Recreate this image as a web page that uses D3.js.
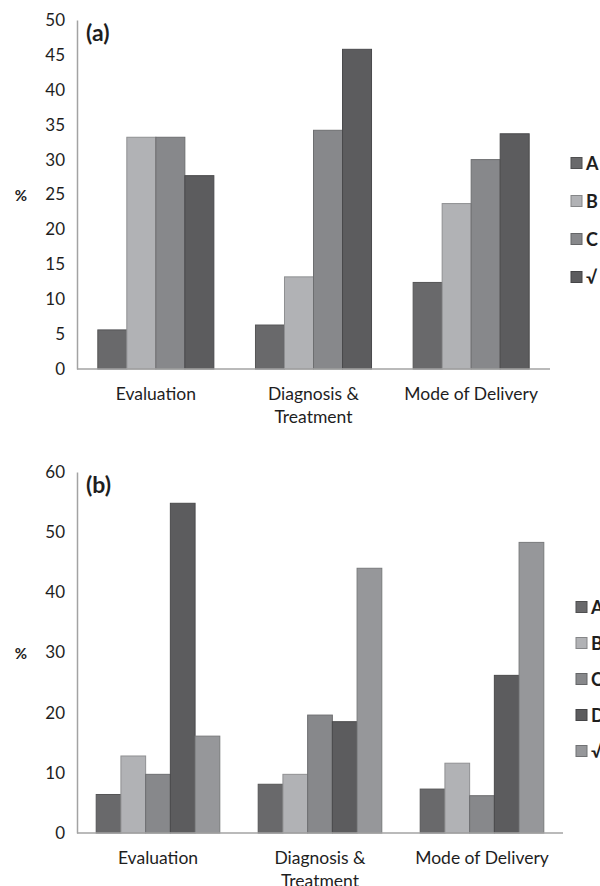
<!DOCTYPE html>
<html>
<head>
<meta charset="utf-8">
<script src="https://cdn.jsdelivr.net/npm/d3@7"></script>
<style>
  body { margin: 0; background: #fff; }
  svg { display: block; font-family: Lato, "Open Sans", sans-serif; }
</style>
</head>
<body>
<div id="chart"></div>
<script>
// categories shared by both panels
const categories = ["Evaluation", "Diagnosis & Treatment", "Mode of Delivery"];

// panel (a)
const seriesA = ["A", "B", "C", "√"];
const valuesA = {
    "A": [5.6, 6.3, 12.4],
    "B": [33.2, 13.2, 23.7],
    "C": [33.2, 34.2, 30.0],
    "√": [27.7, 45.8, 33.7]
};
const ticksA = [0, 5, 10, 15, 20, 25, 30, 35, 40, 45, 50];

// panel (b)
const seriesB = ["A", "B", "C", "D", "√"];
const valuesB = {
    "A": [6.4, 8.1, 7.3],
    "B": [12.8, 9.75, 11.6],
    "C": [9.75, 19.6, 6.2],
    "D": [54.8, 18.5, 26.2],
    "√": [16.1, 44.0, 48.3]
};
const ticksB = [0, 10, 20, 30, 40, 50, 60];

const width = 600, height = 886;

const svg = d3.select("#chart")
    .append("svg")
    .attr("width", width)
    .attr("height", height);

// draws one panel of grouped bars
function drawPanel(opt) {
    const g = svg.append("g");

    let x = d3.scaleBand()
        .domain(categories)
        .range([opt.left, opt.right])
        .paddingInner(opt.pad)
        .paddingOuter(opt.pad / 2);

    let xs = d3.scaleBand()
        .domain(opt.series)
        .range([0, x.bandwidth()]);

    let y = d3.scaleLinear()
        .domain([0, d3.max(opt.ticks)])
        .range([opt.bottom, opt.top]);

    // y axis: line + labels only
    const yAxis = g.append("g")
        .attr("transform", `translate(${opt.left},0)`)
        .call(d3.axisLeft(y).tickValues(opt.ticks).tickSize(0).tickPadding(12));
    yAxis.select(".domain").attr("stroke", "#a3a3a3").attr("stroke-width", 1.5);
    yAxis.selectAll("text")
        .attr("font-size", "17px")
        .attr("font-family", "Lato, sans-serif")
        .attr("fill", "#1e1e1e");

    // bars
    opt.series.forEach((s, i) => {
        g.selectAll(".bar" + i)
            .data(opt.values[s])
            .enter()
            .append("rect")
            .attr("x", (d, j) => x(categories[j]) + xs(s))
            .attr("y", (d) => y(d))
            .attr("width", xs.bandwidth())
            .attr("height", (d) => y(0) - y(d))
            .attr("fill", opt.colors[i])
            .attr("stroke", d3.color(opt.colors[i]).darker(0.6))
            .attr("stroke-width", 1);
    });

    // x axis line
    g.append("line")
        .attr("x1", opt.left).attr("x2", opt.right)
        .attr("y1", y(0)).attr("y2", y(0))
        .attr("stroke", "#a3a3a3")
        .attr("stroke-width", 1.5);

    // category labels (second line for "Treatment")
    categories.forEach((c) => {
        const lines = c === "Diagnosis & Treatment" ? ["Diagnosis &", "Treatment"] : [c];
        const t = g.append("text")
            .attr("x", x(c) + x.bandwidth() / 2)
            .attr("y", y(0) + 31)
            .attr("text-anchor", "middle")
            .attr("font-size", "17.5px")
            .attr("fill", "#1e1e1e");
        lines.forEach((l, k) => {
            t.append("tspan")
                .attr("x", x(c) + x.bandwidth() / 2)
                .attr("dy", k === 0 ? 0 : 23)
                .text(l);
        });
    });

    // "%" label
    g.append("text")
        .attr("x", 21)
        .attr("y", (opt.top + opt.bottom) / 2 + 6)
        .attr("text-anchor", "middle")
        .attr("font-size", "15px")
        .attr("font-weight", "bold")
        .attr("fill", "#222")
        .text("%");

    // panel tag
    g.append("text")
        .attr("x", 86)
        .attr("y", opt.top + 21)
        .attr("font-size", "23px")
        .attr("font-weight", "bold")
        .attr("fill", "#1e1e1e")
        .text(opt.tag);

    // legend (cut by the right edge, as in the source)
    opt.series.forEach((s, i) => {
        const ly = opt.legendTop + i * opt.legendStep;
        g.append("rect")
            .attr("x", opt.legendX)
            .attr("y", ly - 5.5)
            .attr("width", 11)
            .attr("height", 11)
            .attr("fill", opt.colors[i])
            .attr("stroke", d3.color(opt.colors[i]).darker(0.8));
        g.append("text")
            .attr("x", opt.legendX + 15)
            .attr("y", ly + 6.5)
            .attr("font-size", "18px")
            .attr("font-weight", "bold")
            .attr("fill", "#1e1e1e")
            .text(s);
    });
}

drawPanel({
    series: seriesA, values: valuesA, ticks: ticksA, tag: "(a)",
    colors: ["#69696b", "#b1b2b5", "#87888b", "#5c5c5e"],
    left: 77, right: 550, top: 20, bottom: 369, pad: 0.264,
    legendX: 571, legendTop: 163, legendStep: 38
});

drawPanel({
    series: seriesB, values: valuesB, ticks: ticksB, tag: "(b)",
    colors: ["#69696b", "#b1b2b5", "#87888b", "#5c5c5e", "#96979a"],
    left: 77, right: 563, top: 472, bottom: 833, pad: 0.237,
    legendX: 576, legendTop: 607, legendStep: 36
});
</script>
</body>
</html>
